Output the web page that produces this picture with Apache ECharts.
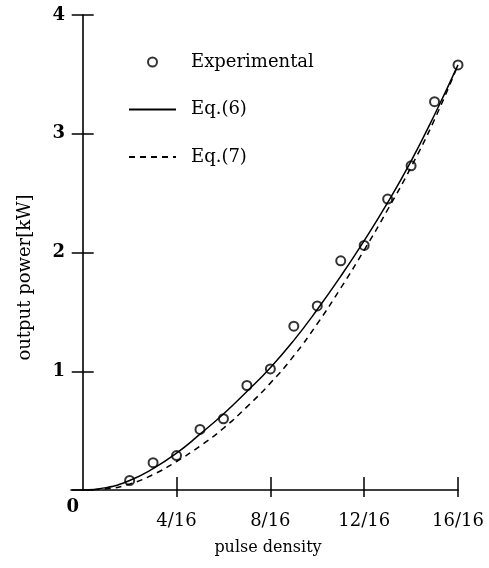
<!DOCTYPE html>
<html>
<head>
<meta charset="utf-8">
<script src="https://cdn.jsdelivr.net/npm/echarts@6/dist/echarts.min.js"></script>
<style>html,body{margin:0;padding:0;background:#fff;}#c{width:489px;height:568px;}</style>
</head>
<body>
<div id="c"></div>
<script>
// pulse density numerators (n/16)
var curveX = [0,1,2,3,4,5,6,7,8,9,10,11,12,13,14,15,16];
var eq6 = [0,0.02,0.08,0.18,0.31,0.47,0.64,0.83,1.03,1.26,1.52,1.80,2.10,2.42,2.77,3.16,3.58];
var eq7 = [0,0.01,0.05,0.13,0.24,0.37,0.52,0.70,0.90,1.13,1.40,1.70,2.02,2.36,2.72,3.12,3.58];
var expX = [2,3,4,5,6,7,8,9,10,11,12,13,14,15,16];
var expY = [0.08,0.23,0.29,0.51,0.60,0.88,1.02,1.38,1.55,1.93,2.06,2.45,2.73,3.27,3.58];
var xTicks = [4,8,12,16];
var yTickLabels = ['0','1','2','3','4'];

function pairs(xs, ys){ return xs.map(function(x,i){ return [x, ys[i]]; }); }

var FONT = 'DejaVu Serif';
var chart = echarts.init(document.getElementById('c'), null, {renderer:'canvas'});
chart.setOption({
  animation: false,
  backgroundColor: '#fff',
  grid: {left: 71, right: 31, top: 15, bottom: 78, containLabel: false, outerBoundsMode: 'none'},
  legend: {
    orient: 'vertical', left: 128, top: 53, padding: 0,
    itemWidth: 47, itemHeight: 9, itemGap: 29.5,
    textStyle: {fontFamily: FONT, fontSize: 18, color: '#000', padding: [0,0,0,10]},
    data: [
      {name: 'Experimental'},
      {name: 'Eq.(6)', itemStyle: {opacity: 0}},
      {name: 'Eq.(7)', itemStyle: {opacity: 0}}
    ]
  },
  xAxis: [{
    type: 'value', min: -0.5, max: 16,
    name: 'pulse density', nameLocation: 'middle', nameGap: 50,
    nameTextStyle: {fontFamily: FONT, fontSize: 16, color: '#000', padding: [0,0,0,7]},
    axisLine: {show: true, onZero: true, lineStyle: {color: '#000', width: 1.6}},
    axisTick: {show: true, inside: false, length: 7, customValues: xTicks, lineStyle: {color: '#000', width: 1.5}},
    axisLabel: {show: true, customValues: xTicks, margin: 22, fontFamily: FONT, fontSize: 18, color: '#000',
      formatter: function(v){ return v + '/16'; }},
    splitLine: {show: false}
  },{
    type: 'value', min: -0.5, max: 16, position: 'bottom',
    axisLine: {show: false},
    axisTick: {show: true, inside: true, length: 13, customValues: xTicks, lineStyle: {color: '#000', width: 1.5}},
    axisLabel: {show: false},
    splitLine: {show: false}
  }],
  yAxis: [{
    type: 'value', min: 0, max: 4, interval: 1, position: 'left',
    name: 'output power[kW]', nameLocation: 'middle', nameGap: 37, nameRotate: 90, nameMoveOverlap: false,
    nameTextStyle: {fontFamily: FONT, fontSize: 18, color: '#000', padding: [0,50,0,0]},
    axisLine: {show: true, onZero: true, lineStyle: {color: '#000', width: 1.6}},
    axisTick: {show: true, inside: false, length: 11, lineStyle: {color: '#000', width: 1.5}},
    axisLabel: {show: true, margin: -8, color: '#000',
      formatter: function(v){ var t = yTickLabels[Math.round(v)]; return v === 0 ? '{z|' + t + '}' : '{n|' + t + '}'; },
      rich: {
        n: {fontFamily: FONT, fontSize: 18, fontWeight: 'bold', color: '#000', padding: [0,14,0,0]},
        z: {fontFamily: FONT, fontSize: 18, fontWeight: 'bold', color: '#000', padding: [34,0,0,0]}
      }},
    splitLine: {show: false}
  },{
    type: 'value', min: 0, max: 4, interval: 1, position: 'left',
    axisLine: {show: false, onZero: true},
    axisTick: {show: true, inside: true, length: 11, lineStyle: {color: '#000', width: 1.5}},
    axisLabel: {show: false},
    splitLine: {show: false}
  }],
  series: [{
    name: 'Experimental', type: 'scatter', data: pairs(expX, expY),
    symbol: 'emptyCircle', symbolSize: 9,
    itemStyle: {color: '#000', borderColor: '#000', borderWidth: 1.6}
  },{
    name: 'Eq.(6)', type: 'line', data: pairs(curveX, eq6), smooth: true, symbol: 'none',
    lineStyle: {color: '#000', width: 1.5, type: 'solid'}, itemStyle: {color: '#000'}
  },{
    name: 'Eq.(7)', type: 'line', data: pairs(curveX, eq7), smooth: true, symbol: 'none',
    lineStyle: {color: '#000', width: 1.5, type: [6,5]}, itemStyle: {color: '#000'}
  }]
});
</script>
</body>
</html>
